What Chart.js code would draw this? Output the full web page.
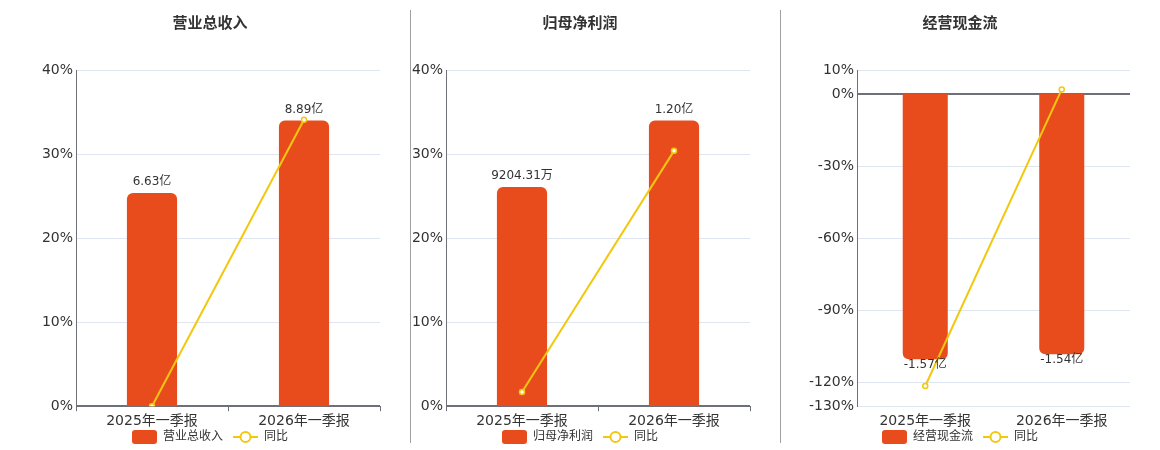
<!DOCTYPE html>
<html><head><meta charset="utf-8">
<script src="https://cdn.jsdelivr.net/npm/chart.js@4"></script>
<style>
html,body{margin:0;padding:0;background:#fff;}
body{width:1160px;height:450px;position:relative;overflow:hidden;}
.p{position:absolute;top:0;width:350px;height:464px;}
.sep{position:absolute;top:10px;width:1px;height:433px;background:#a0a0a0;}
</style></head>
<body>
<div class="p" style="left:40px"><canvas id="c1"></canvas></div>
<div class="p" style="left:410px"><canvas id="c2"></canvas></div>
<div class="p" style="left:790px"><canvas id="c3"></canvas></div>
<div class="sep" style="left:410px"></div>
<div class="sep" style="left:780px"></div>
<script>
const categories = ['2025年一季报', '2026年一季报'];

const titles = ['营业总收入', '归母净利润', '经营现金流'];

const revenueValues = [6.63, 8.89];           // 亿
const revenueLabels = ['6.63亿', '8.89亿'];
const revenueGrowth = [0, 34.09];             // %

const profitValues = [0.920431, 1.20];        // 亿
const profitLabels = ['9204.31万', '1.20亿'];
const profitGrowth = [1.7, 30.38];

const cashValues = [-1.57, -1.54];            // 亿
const cashLabels = ['-1.57亿', '-1.54亿'];
const cashGrowth = [-121.6, 1.9];

const ticks1 = [0, 10, 20, 30, 40];
const ticks2 = [0, 10, 20, 30, 40];
const ticks3 = [-130, -120, -90, -60, -30, 0, 10];

const BAR = '#e84c1d';
const LINE = '#f2c80f';
const FONT = 'DejaVu Sans, "Noto Sans CJK SC", sans-serif';

function barIcon(){
  const c = document.createElement('canvas'); c.width = 25; c.height = 14;
  const x = c.getContext('2d'); x.fillStyle = BAR;
  x.beginPath(); x.roundRect(0, 0, 25, 14, 3); x.fill();
  return c;
}
function lineIcon(){
  const c = document.createElement('canvas'); c.width = 25; c.height = 14;
  const x = c.getContext('2d'); x.strokeStyle = LINE; x.lineWidth = 2;
  x.beginPath(); x.moveTo(0, 7); x.lineTo(25, 7); x.stroke();
  x.beginPath(); x.arc(12.5, 7, 5, 0, Math.PI * 2); x.fillStyle = '#fff'; x.fill(); x.stroke();
  return c;
}

const labelPlugin = {
  id: 'barLabels',
  afterLayout(chart) {
    if (chart.legend) { chart.legend.top -= 11; chart.legend.bottom -= 11; }
  },
  afterDatasetsDraw(chart) {
    const meta = chart.getDatasetMeta(0);
    const ds = chart.data.datasets[0];
    const ctx = chart.ctx;
    ctx.save();
    ctx.font = '12px ' + FONT;
    ctx.fillStyle = '#333';
    ctx.textAlign = 'center';
    ctx.textBaseline = 'middle';
    meta.data.forEach((bar, i) => {
      const v = ds.data[i];
      const y = v >= 0 ? bar.y - 11 : bar.y + 6;
      ctx.fillText(ds.valueLabels[i], bar.x, y);
    });
    ctx.restore();
  }
};

function make(id, title, values, labels, growth, ticks, axisW, name, showXTicks) {
  const lo = Math.min(...ticks), hi = Math.max(...ticks);
  const maxAbs = Math.max(...values.map(Math.abs));
  const neg = values[0] < 0;
  const extent = neg ? Math.abs(lo) : hi;
  const k = maxAbs / (0.85 * extent);
  const icons = [barIcon(), lineIcon()];
  new Chart(document.getElementById(id), {
    data: {
      labels: categories,
      datasets: [
        { type: 'bar', label: name, data: values, valueLabels: labels, yAxisID: 'y2',
          backgroundColor: BAR, borderRadius: 6, borderSkipped: 'start',
          barPercentage: 0.33, categoryPercentage: 1, order: 2 },
        { type: 'line', label: '同比', data: growth, yAxisID: 'y',
          borderColor: LINE, borderWidth: 2, pointRadius: 2.5, pointBorderWidth: 1.5,
          pointBackgroundColor: '#fff', pointBorderColor: LINE, tension: 0, order: 1 }
      ]
    },
    options: {
      responsive: true, maintainAspectRatio: false, animation: false,
      layout: { padding: { left: 0, right: 10, top: 0, bottom: 0 } },
      plugins: {
        title: { display: true, text: title, color: '#333',
          font: { size: 15, weight: 'bold', family: FONT },
          padding: { top: 15, bottom: 37 } },
        legend: { position: 'bottom',
          labels: { usePointStyle: true, pointStyleWidth: 25, boxHeight: 14,
            color: '#333', padding: 10, font: { size: 12, family: FONT },
            generateLabels: (chart) => chart.data.datasets.map((d, i) => ({
              text: d.label, pointStyle: icons[i], fillStyle: 'transparent',
              strokeStyle: 'transparent', lineWidth: 0, datasetIndex: i, hidden: false, fontColor: '#333'
            })) } },
        tooltip: { enabled: false }
      },
      scales: {
        x: { grid: { display: true, drawOnChartArea: false, drawTicks: true, tickLength: 5,
              color: showXTicks ? '#6e7079' : 'rgba(0,0,0,0)', offset: true },
             border: { display: false },
             ticks: { color: '#333', font: { size: 14, family: FONT }, padding: 2 } },
        y: { min: lo, max: hi,
             afterBuildTicks: (s) => { s.ticks = ticks.map(v => ({ value: v })); },
             afterFit: (s) => { s.width = axisW; },
             ticks: { color: '#333', font: { size: 14, family: FONT }, padding: 3,
               callback: (v) => v + '%' },
             grid: { drawTicks: false,
               color: (c) => c.tick && c.tick.value === 0 ? '#6e7079' : '#e0e6f1',
               lineWidth: (c) => c.tick && c.tick.value === 0 ? 2 : 1 },
             border: { display: true, color: '#6e7079', width: 1 } },
        y2: { display: false, min: lo * k, max: hi * k }
      }
    },
    plugins: [labelPlugin]
  });
}

make('c1', titles[0], revenueValues, revenueLabels, revenueGrowth, ticks1, 36, '营业总收入', true);
make('c2', titles[1], profitValues, profitLabels, profitGrowth, ticks2, 36, '归母净利润', true);
make('c3', titles[2], cashValues, cashLabels, cashGrowth, ticks3, 67, '经营现金流', false);
</script>
</body></html>
